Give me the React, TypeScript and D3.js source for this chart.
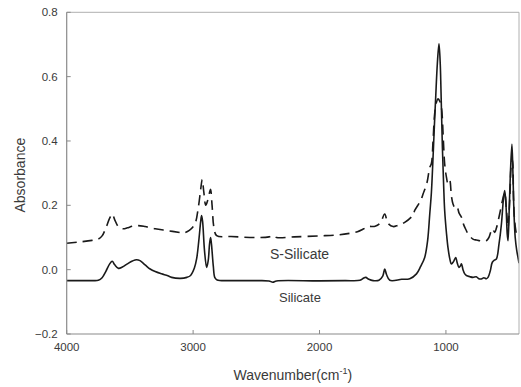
import * as d3 from 'd3';

const xTicks = [4000, 3000, 2000, 1000];
const yTicks = [-0.2, 0, 0.2, 0.4, 0.6, 0.8];

// Silicate (solid line)
const silicateWn = [
  4000, 3800, 3750, 3720, 3690, 3660, 3640, 3620, 3590, 3560, 3520, 3480, 3447, 3420, 3380,
  3340, 3300, 3250, 3200, 3170, 3100, 3050, 3020, 2990, 2972, 2955, 2940, 2933, 2925, 2910,
  2893, 2880, 2870, 2862, 2855, 2840, 2828, 2810, 2700, 2500, 2400, 2370, 2340, 2000, 1800,
  1680, 1650, 1634, 1610, 1576, 1530, 1500, 1484, 1470, 1444, 1350, 1286, 1233, 1200, 1168,
  1145, 1128, 1115, 1102, 1090, 1081, 1068, 1055, 1045, 1041, 1028, 1018, 1010, 995, 984,
  970, 957, 940, 923, 910, 897, 885, 877, 865, 851, 838, 810, 786, 760, 740,
  720, 700, 680, 667, 650, 633, 615, 601, 580, 561, 545, 535, 525, 515, 509,
  500, 490, 478, 470, 462, 452, 440, 430, 422
];
const silicateAbs = [
  -0.034, -0.034, -0.033, -0.025, -0.005, 0.018, 0.026, 0.015, 0.004, 0.008, 0.018, 0.027, 0.031, 0.028, 0.015,
  0.002, -0.006, -0.013, -0.019, -0.024, -0.027, -0.024, -0.018, 0.005, 0.034, 0.09, 0.15, 0.168, 0.15, 0.06,
  0.007, 0.03, 0.08, 0.1, 0.08, 0.01, -0.025, -0.032, -0.034, -0.034, -0.035, -0.039, -0.035, -0.035, -0.034,
  -0.033, -0.026, -0.024, -0.03, -0.034, -0.033, -0.02, 0.002, -0.015, -0.033, -0.03, -0.028, -0.013, 0.01, 0.038,
  0.09, 0.173, 0.24, 0.349, 0.46, 0.536, 0.64, 0.702, 0.64, 0.588, 0.38, 0.26, 0.184, 0.11, 0.069,
  0.035, 0.018, 0.025, 0.038, 0.02, 0.007, 0.012, 0.018, 0.0, -0.013, -0.018, -0.022, -0.024, -0.022, -0.028,
  -0.029, -0.025, -0.028, -0.024, -0.005, 0.023, 0.03, 0.033, 0.08, 0.142, 0.22, 0.246, 0.2, 0.11, 0.09,
  0.18, 0.3, 0.39, 0.3, 0.18, 0.1, 0.06, 0.038, 0.02
];

// S-Silicate (dashed line)
const sSilicateWn = [
  4000, 3900, 3800, 3750, 3720, 3690, 3660, 3640, 3620, 3590, 3553, 3520, 3480, 3434, 3380,
  3300, 3197, 3100, 3078, 3030, 2986, 2960, 2940, 2928, 2915, 2900, 2885, 2870, 2862, 2850,
  2835, 2814, 2700, 2500, 2400, 2367, 2340, 2200, 2000, 1850, 1760, 1700, 1650, 1616, 1560,
  1520, 1484, 1460, 1418, 1380, 1326, 1260, 1247, 1200, 1181, 1150, 1128, 1115, 1102, 1089,
  1075, 1063, 1050, 1036, 1020, 1010, 995, 984, 970, 957, 944, 925, 912, 895, 877,
  860, 838, 825, 786, 760, 733, 700, 680, 660, 633, 614, 600, 575, 550, 535,
  520, 509, 495, 482, 474, 465, 456, 440, 422
];
const sSilicateAbs = [
  0.082, 0.086, 0.091, 0.095, 0.105, 0.13, 0.16, 0.173, 0.155, 0.133, 0.127, 0.13, 0.135, 0.137, 0.134,
  0.127, 0.121, 0.115, 0.114, 0.122, 0.142, 0.19, 0.25, 0.28, 0.24, 0.2, 0.215, 0.24, 0.25, 0.2,
  0.13, 0.106, 0.103, 0.1, 0.102, 0.106, 0.1, 0.102, 0.105, 0.108, 0.113, 0.118, 0.127, 0.134, 0.135,
  0.145, 0.173, 0.145, 0.134, 0.138, 0.147, 0.17, 0.184, 0.215, 0.235, 0.27, 0.318, 0.33, 0.4, 0.485,
  0.52, 0.531, 0.525, 0.505, 0.4, 0.329, 0.285, 0.267, 0.277, 0.23, 0.204, 0.19, 0.194, 0.175, 0.163,
  0.14, 0.121, 0.111, 0.095, 0.092, 0.09, 0.088, 0.09, 0.1, 0.127, 0.116, 0.13, 0.173, 0.22, 0.24,
  0.18, 0.132, 0.22, 0.33, 0.34, 0.22, 0.15, 0.11, 0.1
];

const W = 521;
const H = 387;
const left = 66.7;
const right = 519;
const top = 12.3;
const bottom = 334;
const font = 'Arial, "Liberation Sans", sans-serif';
const axisColor = '#8a8a8a';
const textColor = '#3a3a3a';

const App = () => {
  const x = d3.scaleLinear().domain([4000, 422]).range([left, right]);
  const y = d3.scaleLinear().domain([-0.2, 0.8]).range([bottom, top]);

  const line = d3
    .line<[number, number]>()
    .x(d => x(d[0]))
    .y(d => y(d[1]))
    .curve(d3.curveCatmullRom.alpha(0.5));

  const solid = line(silicateWn.map((w, i) => [w, silicateAbs[i]]) as [number, number][]) || '';
  const dashed = line(sSilicateWn.map((w, i) => [w, sSilicateAbs[i]]) as [number, number][]) || '';

  return (
    <svg
      width={W}
      height={H}
      style={{ position: 'absolute', left: 0, top: 0, background: '#fff' }}
      fontFamily={font}
    >
      <rect x={0} y={0} width={W} height={H} fill="#fff" />
      <defs>
        <clipPath id="plot">
          <rect x={left} y={top} width={right - left} height={bottom - top} />
        </clipPath>
      </defs>

      <g clipPath="url(#plot)">
        <path d={dashed} fill="none" stroke="#1a1a1a" strokeWidth={1.6} strokeDasharray="10,6" />
        <path d={solid} fill="none" stroke="#1a1a1a" strokeWidth={1.6} />
      </g>

      {/* frame */}
      <path
        d={`M${left},${top}H${right}V${bottom}`}
        fill="none"
        stroke="#b0b0b0"
        strokeWidth={1}
      />
      <line x1={left} x2={left} y1={top} y2={bottom} stroke={axisColor} strokeWidth={1.2} />
      <line x1={left} x2={right} y1={bottom} y2={bottom} stroke={axisColor} strokeWidth={1.2} />

      {yTicks.map(t => (
        <g key={t}>
          <line x1={left} x2={left + 4} y1={y(t)} y2={y(t)} stroke={axisColor} />
          <text
            x={left - 9}
            y={y(t)}
            dy="0.35em"
            textAnchor="end"
            fontSize={11.5}
            fill={textColor}
          >
            {d3.format('.1f')(t)}
          </text>
        </g>
      ))}

      {xTicks.map(t => (
        <g key={t}>
          <line x1={x(t)} x2={x(t)} y1={bottom} y2={bottom - 4} stroke={axisColor} />
          <text x={x(t)} y={bottom + 17} textAnchor="middle" fontSize={11.5} fill={textColor}>
            {t}
          </text>
        </g>
      ))}

      <text
        transform={`translate(25,${(top + bottom) / 2 + 2}) rotate(-90)`}
        textAnchor="middle"
        fontSize={14}
        fill={textColor}
      >
        Absorbance
      </text>
      <text x={(left + right) / 2} y={380} textAnchor="middle" fontSize={14} fill={textColor}>
        Wavenumber(cm
        <tspan dy={-6} fontSize={9}>-1</tspan>
        <tspan dy={6}>)</tspan>
      </text>

      <text x={270} y={259} fontSize={14} fill={textColor}>
        S-Silicate
      </text>
      <text x={279} y={302} fontSize={13} fill={textColor}>
        Silicate
      </text>
    </svg>
  );
};

export default App;
